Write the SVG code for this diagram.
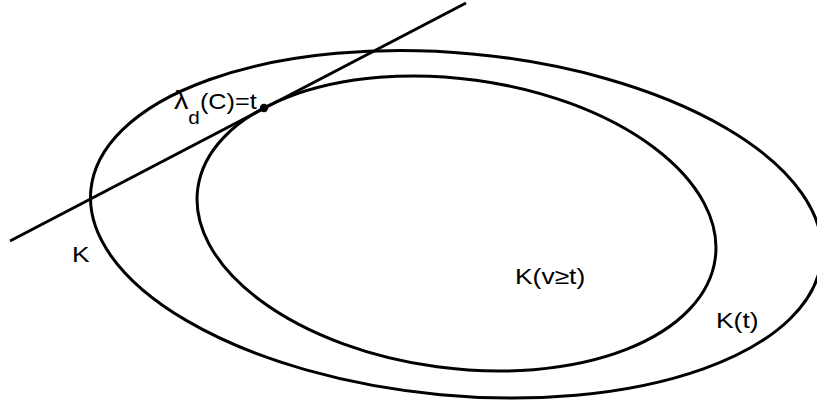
<svg xmlns="http://www.w3.org/2000/svg" width="817" height="405" viewBox="0 0 817 405">
<style>
.curve{fill:none;stroke:#000;stroke-width:3}
.lbl{font-family:"Liberation Sans",Arial,sans-serif;font-size:22px;fill:#000}
</style>
<rect width="817" height="405" fill="#fff"/>
<g id="K-t">
<ellipse class="curve" cx="0" cy="0" rx="367" ry="171.1" transform="translate(456.25,224.3) rotate(5.33)"/>
</g>
<g id="K-v-ge-t">
<ellipse class="curve" cx="0" cy="0" rx="261.1" ry="144.6" transform="translate(456.5,223.5) rotate(7.73)"/>
</g>
<g id="connectors">
<line class="curve" x1="10" y1="241" x2="466" y2="3"/>
</g>
<g id="tangent-point">
<circle cx="264" cy="108" r="4.2" fill="#000"/>
</g>
<g id="labels">
<text class="lbl" transform="translate(174,109) scale(1.15,1)"><tspan font-size="25px">λ</tspan><tspan font-size="18px" dy="15">d</tspan><tspan dy="-15">(C)=t</tspan></text>
<text class="lbl" transform="translate(72,261.5) scale(1.2,1)">K</text>
<text class="lbl" transform="translate(515,284) scale(1.2,1)">K(v≥t)</text>
<text class="lbl" transform="translate(716,328) scale(1.2,1)">K(t)</text>
</g>
</svg>
